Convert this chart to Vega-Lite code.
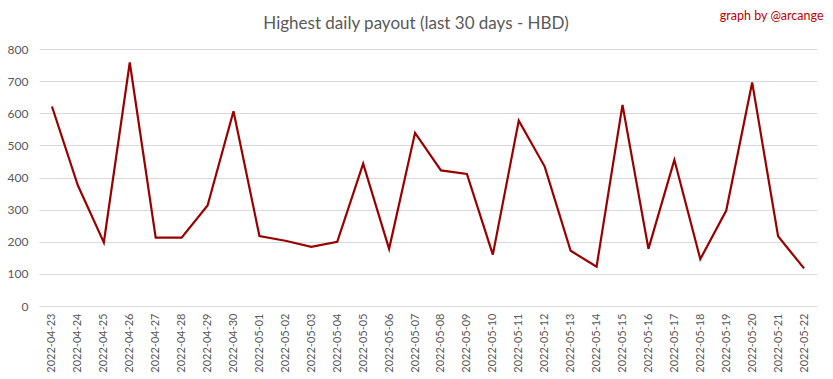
{
  "$schema": "https://vega.github.io/schema/vega-lite/v6.json",
  "autosize": {"type": "none"},
  "width": 778,
  "height": 257,
  "padding": {"left": 39, "top": 49, "right": 16, "bottom": 73},
  "background": "white",
  "title": {
    "text": "Highest daily payout (last 30 days - HBD)",
    "anchor": "middle",
    "frame": "group",
    "dx": -12,
    "offset": -24,
    "font": "Lato",
    "fontSize": 17,
    "fontWeight": "normal",
    "color": "#595959"
  },
  "data": {
    "values": [
      {"date": "2022-04-23", "payout": 621},
      {"date": "2022-04-24", "payout": 375},
      {"date": "2022-04-25", "payout": 198},
      {"date": "2022-04-26", "payout": 758},
      {"date": "2022-04-27", "payout": 213},
      {"date": "2022-04-28", "payout": 213},
      {"date": "2022-04-29", "payout": 313},
      {"date": "2022-04-30", "payout": 606},
      {"date": "2022-05-01", "payout": 218},
      {"date": "2022-05-02", "payout": 203},
      {"date": "2022-05-03", "payout": 184},
      {"date": "2022-05-04", "payout": 200},
      {"date": "2022-05-05", "payout": 443},
      {"date": "2022-05-06", "payout": 178},
      {"date": "2022-05-07", "payout": 539},
      {"date": "2022-05-08", "payout": 422},
      {"date": "2022-05-09", "payout": 411},
      {"date": "2022-05-10", "payout": 160},
      {"date": "2022-05-11", "payout": 577},
      {"date": "2022-05-12", "payout": 434},
      {"date": "2022-05-13", "payout": 172},
      {"date": "2022-05-14", "payout": 122},
      {"date": "2022-05-15", "payout": 626},
      {"date": "2022-05-16", "payout": 178},
      {"date": "2022-05-17", "payout": 455},
      {"date": "2022-05-18", "payout": 146},
      {"date": "2022-05-19", "payout": 297},
      {"date": "2022-05-20", "payout": 696},
      {"date": "2022-05-21", "payout": 217},
      {"date": "2022-05-22", "payout": 117}
    ]
  },
  "mark": {"type": "line", "color": "#990000", "strokeWidth": 2.2},
  "encoding": {
    "x": {
      "field": "date",
      "type": "ordinal",
      "scale": {"type": "point", "padding": 0.5},
      "axis": {
        "title": null,
        "labelAngle": -90,
        "labelAlign": "right",
        "labelBaseline": "middle",
        "labelPadding": 7,
        "ticks": false,
        "domain": false,
        "grid": false,
        "labelFont": "Lato",
        "labelFontSize": 11,
        "labelColor": "#595959"
      }
    },
    "y": {
      "field": "payout",
      "type": "quantitative",
      "scale": {"domain": [0, 800]},
      "axis": {
        "values": [0, 100, 200, 300, 400, 500, 600, 700, 800],
        "ticks": false,
        "domain": false,
        "grid": true,
        "gridColor": "#d9d9d9",
        "gridWidth": 1,
        "labelPadding": 11,
        "labelFont": "Lato",
        "labelFontSize": 12,
        "labelColor": "#595959",
        "title": "graph by @arcange",
        "titleAngle": 0,
        "titleAlign": "right",
        "titleBaseline": "middle",
        "titleX": 784,
        "titleY": -34,
        "titleFont": "Lato",
        "titleFontSize": 12.5,
        "titleFontWeight": "normal",
        "titleColor": "#C00000"
      }
    }
  },
  "config": {"view": {"stroke": null}}
}
